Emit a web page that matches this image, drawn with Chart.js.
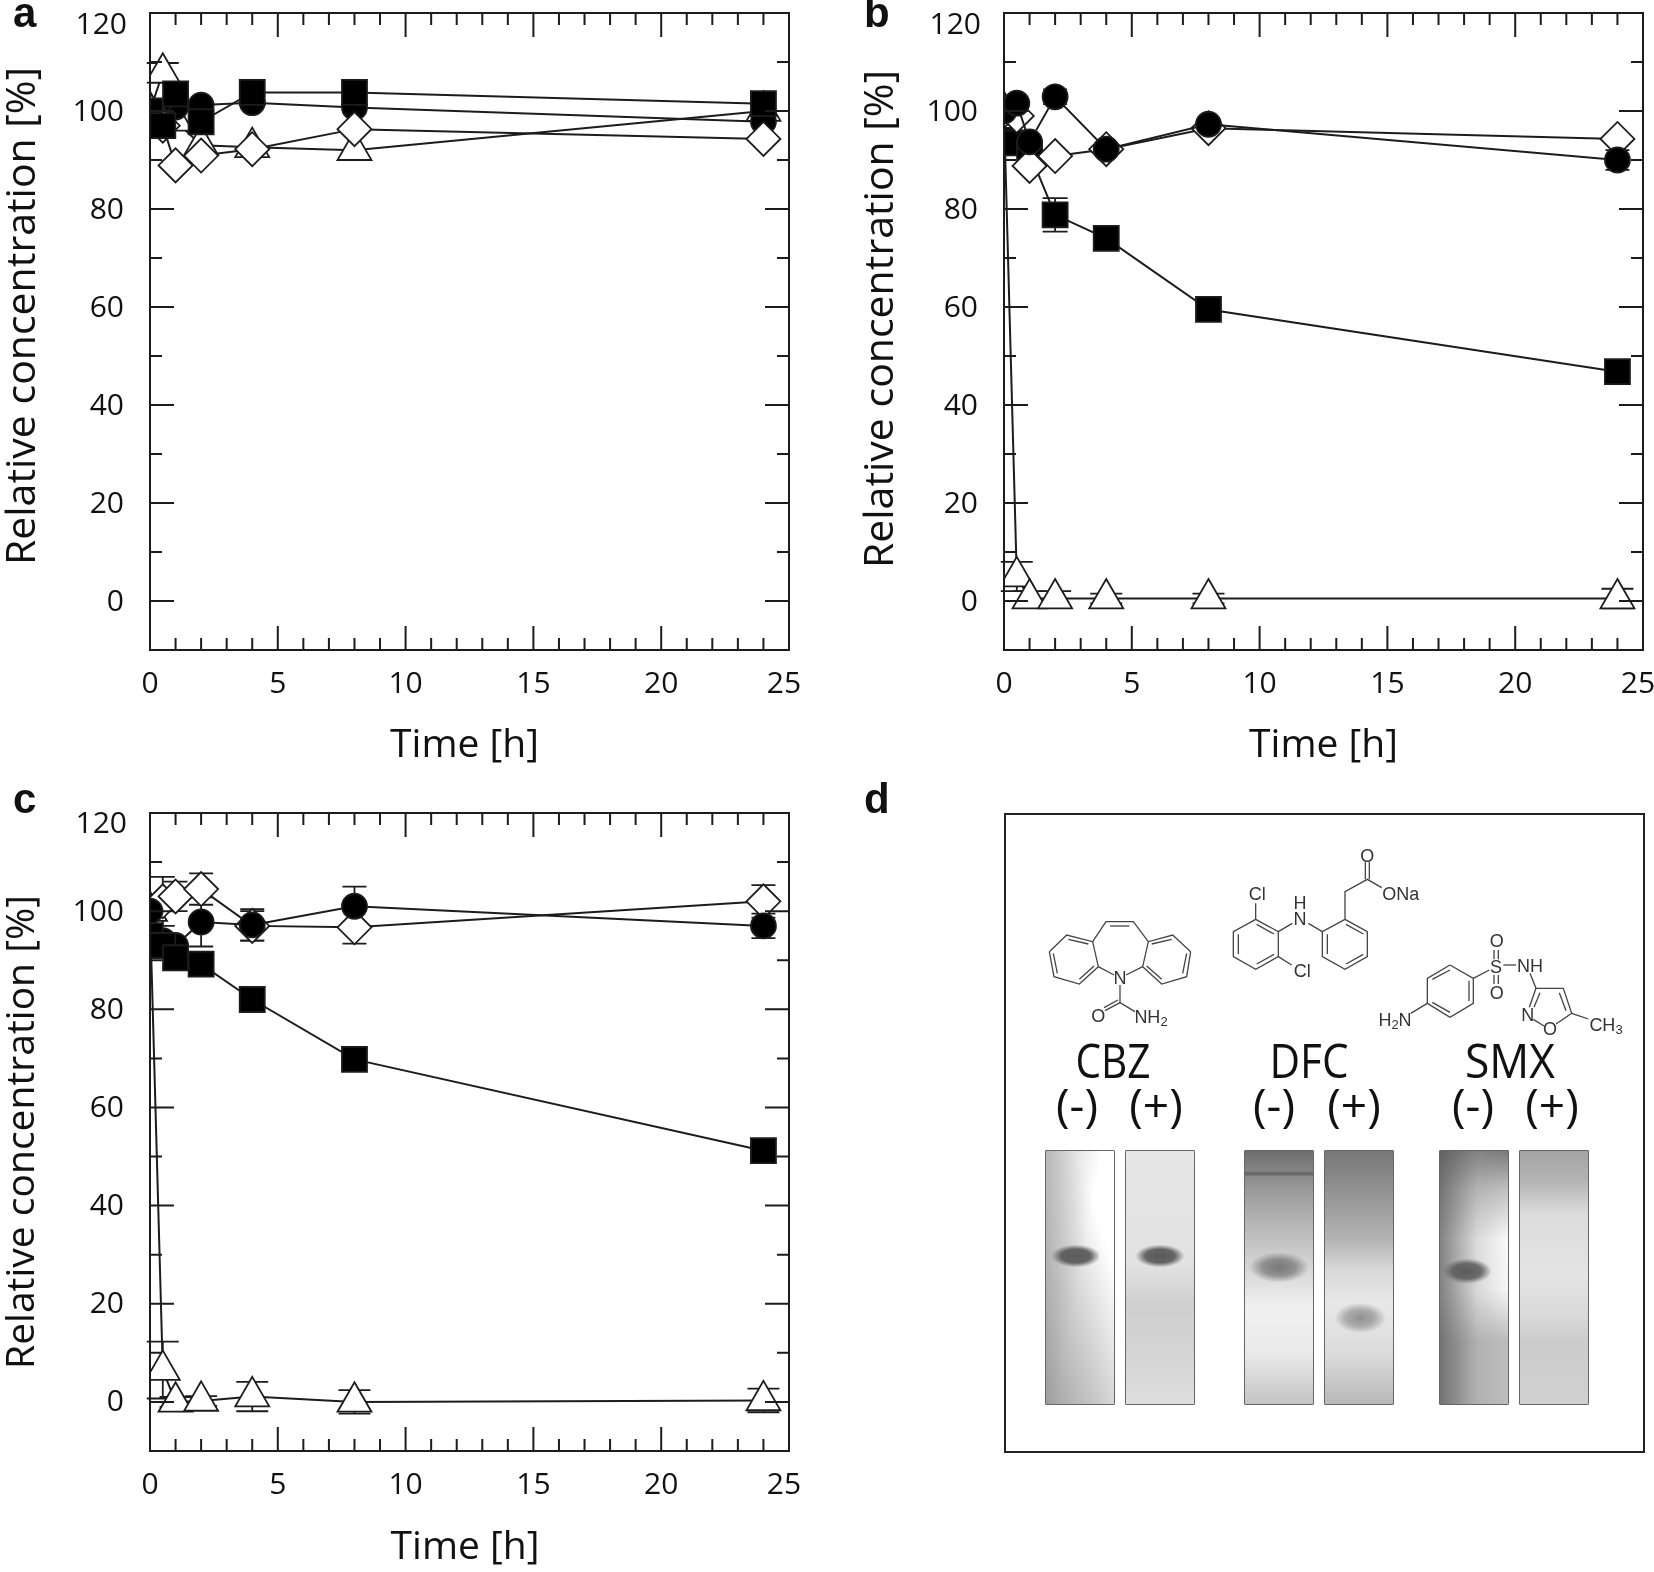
<!DOCTYPE html>
<html><head><meta charset="utf-8">
<script src="https://cdn.jsdelivr.net/npm/chart.js@4"></script>
<style>
html,body{margin:0;padding:0;background:#fff;width:1654px;height:1572px;overflow:hidden}
canvas{position:absolute;display:block}
.let{position:absolute;font:bold 42px "Liberation Sans",Arial,sans-serif;color:#111;line-height:42px}
#boxd{position:absolute;left:1004px;top:813px;width:637px;height:636px;border:2px solid #222}
.gel{position:absolute;top:1150px;height:253px;width:68px;border:1.5px solid #666;border-radius:1px}
#chem{position:absolute;left:0;top:0}
.lab{font-family:"Open Sans",sans-serif;fill:#111}
.at{font-family:"Liberation Sans",Arial,sans-serif;font-size:18px;fill:#333}
</style></head><body>
<canvas id="ca" width="810" height="790" style="left:0;top:0"></canvas>
<canvas id="cb" width="844" height="790" style="left:810px;top:0"></canvas>
<canvas id="cc" width="810" height="812" style="left:0;top:760px"></canvas>
<div class="let" style="left:13px;top:-8px">a</div>
<div class="let" style="left:864px;top:-8px">b</div>
<div class="let" style="left:13px;top:778px">c</div>
<div class="let" style="left:864px;top:778px">d</div>
<div id="boxd"></div>
<div class="gel" style="left:1045px;background:radial-gradient(36% 4.5% at 44% 41.5%,rgba(85,85,85,.95) 0%,rgba(85,85,85,.9) 60%,rgba(85,85,85,0) 100%),linear-gradient(72deg,rgba(120,120,120,.7) 0%,rgba(150,150,150,.45) 40%,rgba(255,255,255,0) 75%),linear-gradient(100deg,#c4c4c4 0%,#fff 50%,#fff 100%)"></div>
<div class="gel" style="left:1125px;background:radial-gradient(36% 4.5% at 50% 41.5%,rgba(85,85,85,.95) 0%,rgba(85,85,85,.9) 60%,rgba(85,85,85,0) 100%),linear-gradient(180deg,#e6e6e6 0%,#e2e2e2 45%,#cfcfcf 60%,#d4d4d4 80%,#dedede 100%)"></div>
<div class="gel" style="left:1244px;background:linear-gradient(180deg,transparent 8%,rgba(70,70,70,.45) 8.5%,rgba(70,70,70,.45) 9.5%,transparent 10%),radial-gradient(44% 6% at 50% 46%,rgba(110,110,110,.9) 0%,rgba(120,120,120,.75) 55%,rgba(120,120,120,0) 100%),linear-gradient(180deg,#6e6e6e 0%,#999 15%,#b8b8b8 30%,#d4d4d4 45%,#f0f0f0 62%,#eaeaea 80%,#c4c4c4 100%)"></div>
<div class="gel" style="left:1324px;background:radial-gradient(38% 6% at 52% 66%,rgba(135,135,135,.9) 0%,rgba(140,140,140,.65) 55%,rgba(140,140,140,0) 100%),linear-gradient(180deg,#777 0%,#9a9a9a 20%,#b4b4b4 35%,#d8d8d8 47%,#e8e8e8 60%,#dcdcdc 80%,#b8b8b8 100%)"></div>
<div class="gel" style="left:1439px;background:radial-gradient(36% 5% at 40% 47.5%,rgba(85,85,85,.95) 0%,rgba(90,90,90,.85) 60%,rgba(90,90,90,0) 100%),linear-gradient(90deg,rgba(90,90,90,.75) 0%,rgba(150,150,150,.3) 55%,rgba(255,255,255,0) 100%),linear-gradient(180deg,#7a7a7a 0%,#c0c0c0 15%,#fafafa 35%,#f6f6f6 55%,#bdbdbd 75%,#bdbdbd 100%)"></div>
<div class="gel" style="left:1519px;background:linear-gradient(180deg,#a4a4a4 0%,#b4b4b4 12%,#dcdcdc 25%,#e4e4e4 50%,#d8d8d8 66%,#cccccc 75%,#d0d0d0 100%)"></div>
<svg id="chem" width="1654" height="1572"></svg>
<script>
const times = [0, 0.5, 1, 2, 4, 8, 24];
const yTickValues = [0, 20, 40, 60, 80, 100, 120];
const xTickValues = [0, 5, 10, 15, 20, 25];
const yMinorValues = [10, 30, 50, 70, 90, 110];
const xMinorValues = [1,2,3,4,6,7,8,9,11,12,13,14,16,17,18,19,21,22,23,24];
const yTitle = 'Relative concentration [%]';
const xTitle = 'Time [h]';

const aSquare   = [100, 97, 103.5, 97.8, 103.8, 103.8, 101.5];
const aCircle   = [100, 98, 100.8, 101.2, 101.7, 100.7, 97.8];
const aTriangle = [100, 107.8, 98, 93, 92.6, 92, 100];
const aDiamond  = [100, 97, 88.9, 90.9, 92.2, 96.3, 94.3];
const aTriangleErr = [0, 2, 0, 0, 0, 0, 0];

const bSquare   = [94, 93.5, 91.4, 78.8, 74, 59.5, 46.8];
const bCircle   = [100, 101.6, 93.7, 102.9, 92.2, 97.3, 90];
const bTriangle = [100, 5, 0.5, 0.5, 0.5, 0.5, 0.5];
const bDiamond  = [100, 99, 88.8, 90.8, 92.2, 96.5, 94.3];
const bSquareErr   = [0, 0, 0, 3.4, 0, 0, 0];
const bCircleErr   = [0, 0, 0, 1.5, 0, 0, 2];
const bTriangleErr = [0, 3, 1.5, 1.5, 1, 1, 2];

const cSquare   = [95, 93, 90.5, 89.2, 82, 69.8, 51.2];
const cCircle   = [100, 94, 93, 97.8, 97.2, 101, 97];
const cTriangle = [100, 6.5, 0, 0.2, 1.1, 0, 0.3];
const cDiamond  = [100, 102, 103, 104.5, 97, 96.7, 102];
const cCircleErr   = [0, 0, 0, 5, 3.2, 4, 2.5];
const cTriangleErr = [0, 5.8, 1, 1, 3, 2.4, 2.4];
const cDiamondErr  = [0, 5, 3, 3.2, 3, 3.3, 3.3];

const INK = '#1c1c1c';
const STY = {
  square:   {pointStyle:'rect',     pointRadius:17.7, bg:'#000', cap:12.5},
  circle:   {pointStyle:'circle',   pointRadius:12.5, bg:'#000', cap:12},
  triangle: {pointStyle:'triangle', pointRadius:19.6, bg:'#fff', cap:16},
  diamond:  {pointStyle:'rectRot',  pointRadius:17,   bg:'#fff', cap:12}
};
function series(kind, vals, order, errs){
  const s = STY[kind];
  return {label:kind, data:vals.map((y,i)=>({x:times[i],y})), order, errs:errs||null, cap:s.cap,
    showLine:true, tension:0, borderColor:INK, borderWidth:2, clip:0,
    pointStyle:s.pointStyle, pointRadius:s.pointRadius, pointHoverRadius:s.pointRadius,
    pointBackgroundColor:s.bg, pointBorderColor:INK, pointBorderWidth:1.8};
}
const furniture = {
  id:'furniture',
  afterLayout(chart){
    const o = chart.options.nudge;
    [['x',chart.scales.x],['y',chart.scales.y]].forEach(([k,s])=>{
      if(s._nudged) return; s._nudged = true;
      const dt = s.drawTitle, cl = s._computeLabelItems;
      s.drawTitle = function(){ const c=this.ctx; c.save();
        if(k==='x') c.translate(o.xTitleDx,0); else c.translate(0,o.yTitleDy);
        dt.apply(this,arguments); c.restore(); };
      s._computeLabelItems = function(a){ const it = cl.call(this,a);
        it.forEach(i=>{
          if(k==='y') i.options.translation[1]+=1;
          if(k==='y'&&i.label==='120'){ i.options.translation[1]+=o.topLabelDy; i.options.translation[0]+=3; }
          if(k==='x'&&i.label==='25') i.options.translation[0]-=5; });
        return it; };
    });
  },
  beforeDatasetsDraw(chart){
    const c = chart.ctx, {x:X, y:Y} = chart.scales;
    c.save(); c.strokeStyle = INK; c.lineWidth = 1.8;
    chart.data.datasets.forEach(d=>{
      if(!d.errs) return;
      d.errs.forEach((e,i)=>{ if(!e) return;
        const px = X.getPixelForValue(d.data[i].x), t = Y.getPixelForValue(d.data[i].y+e), b = Y.getPixelForValue(d.data[i].y-e);
        c.beginPath(); c.moveTo(px,t); c.lineTo(px,b);
        c.moveTo(px-d.cap,t); c.lineTo(px+d.cap,t); c.moveTo(px-d.cap,b); c.lineTo(px+d.cap,b); c.stroke();
      });
    });
    c.restore();
  },
  afterDraw(chart){
    const c = chart.ctx, a = chart.chartArea, {x:X, y:Y} = chart.scales;
    c.save(); c.strokeStyle = INK; c.lineWidth = 2;
    c.strokeRect(a.left,a.top,a.right-a.left,a.bottom-a.top);
    const tick=(vals,len,horizontal)=>vals.forEach(v=>{
      c.beginPath();
      if(horizontal){ const p=Y.getPixelForValue(v); c.moveTo(a.left,p);c.lineTo(a.left+len,p);c.moveTo(a.right,p);c.lineTo(a.right-len,p);}
      else { const p=X.getPixelForValue(v); c.moveTo(p,a.bottom);c.lineTo(p,a.bottom-len);c.moveTo(p,a.top);c.lineTo(p,a.top+len);}
      c.stroke();
    });
    tick(xTickValues,24,false); tick(xMinorValues,12,false);
    tick(yTickValues,24,true);  tick(yMinorValues,12,true);
    c.restore();
  }
};
const zeroPad = s=>{s.paddingLeft=s.paddingRight=s.paddingTop=s.paddingBottom=0;};
function panel(id, box, sets, nudge){
  return new Chart(document.getElementById(id), {
    type:'scatter',
    data:{datasets:sets},
    options:{
      responsive:false, animation:false, devicePixelRatio:1, nudge,
      layout:{autoPadding:false, padding:{left:0,top:box.top,right:box.right,bottom:0}},
      plugins:{legend:{display:false},tooltip:{enabled:false},title:{display:false}},
      scales:{
        x:{type:'linear',min:0,max:25,grid:{display:false},border:{display:false},
          afterBuildTicks:s=>{s.ticks=xTickValues.map(v=>({value:v}));},
          afterFit:s=>{s.height=box.xh;zeroPad(s);},
          ticks:{color:'#111',font:{family:'"Open Sans"',size:30},padding:8,maxRotation:0,autoSkip:false},
          title:{display:true,text:xTitle,color:'#111',font:{family:'"Open Sans"',size:39},padding:{top:0,bottom:box.xtp}}},
        y:{type:'linear',min:-10,max:120,grid:{display:false},border:{display:false},
          afterBuildTicks:s=>{s.ticks=yTickValues.map(v=>({value:v}));},
          afterFit:s=>{s.width=box.yw;zeroPad(s);},
          ticks:{color:'#111',font:{family:'"Open Sans"',size:30},padding:18,autoSkip:false},
          title:{display:true,text:yTitle,color:'#111',font:{family:'"Open Sans"',size:box.yts},padding:{top:box.ytp,bottom:0}}}
      }
    },
    plugins:[furniture]
  });
}
panel('ca',{top:13,right:21,xh:140,yw:150,xtp:21,ytp:-1,yts:41},
  [series('triangle',aTriangle,4,aTriangleErr),series('circle',aCircle,3),series('diamond',aDiamond,2),series('square',aSquare,1)],
  {yTitleDy:-15.5,xTitleDx:-5,topLabelDy:11.5});
panel('cb',{top:13,right:11,xh:140,yw:194,xtp:21,ytp:47,yts:41},
  [series('triangle',bTriangle,4,bTriangleErr),series('square',bSquare,3,bSquareErr),series('diamond',bDiamond,2),series('circle',bCircle,1,bCircleErr)],
  {yTitleDy:-12.5,xTitleDx:0,topLabelDy:11.5});
panel('cc',{top:53,right:21,xh:121,yw:150,xtp:1,ytp:-1,yts:39},
  [series('triangle',cTriangle,4,cTriangleErr),series('diamond',cDiamond,3,cDiamondErr),series('circle',cCircle,2,cCircleErr),series('square',cSquare,1)],
  {yTitleDy:0,xTitleDx:-4.5,topLabelDy:10});

/* panel d: structures and labels */
const NS='http://www.w3.org/2000/svg', svg=document.getElementById('chem');
function seg(ox,oy,list){ list.forEach(p=>{ const l=document.createElementNS(NS,'polyline');
  l.setAttribute('points',p.map((v,i)=>i%2?oy+v/3:ox+v/3).join(' '));
  l.setAttribute('fill','none'); l.setAttribute('stroke','#444'); l.setAttribute('stroke-width','1.3'); svg.appendChild(l); }); }
function txt(parts,x,y,cls,size,len){ const t=document.createElementNS(NS,'text');
  t.setAttribute('x',x); t.setAttribute('y',y); t.setAttribute('class',cls); t.setAttribute('text-anchor','middle');
  if(size) t.setAttribute('font-size',size);
  if(len){ t.setAttribute('textLength',len); t.setAttribute('lengthAdjust','spacingAndGlyphs'); }
  [].concat(parts).forEach(pt=>{ const u=document.createElementNS(NS,'tspan');
    if(/^\d$/.test(pt)){ u.setAttribute('font-size','13'); u.setAttribute('dy','3'); }
    else if(t.childNodes.length) u.setAttribute('dy','-3');
    u.textContent=pt; t.appendChild(u); });
  svg.appendChild(t); }
function at(ox,oy,parts,x,y){ txt(parts,ox+x/3,oy+y/3+6.5,'at'); }
// CBZ + DFC
seg(1040,840,[
 [28,335,80,285,158,305,175,380,118,432,42,410,28,335],[85,298,145,312],[40,340,52,400],[118,418,162,378],
 [452,335,398,285,325,305,308,380,365,432,440,410,452,335],[395,298,335,312],[440,340,428,400],[365,418,320,378],
 [158,305,198,245,280,245,325,305],[210,258,268,258],[175,380,222,405],[308,380,258,405],
 [240,435,240,488,285,515],[240,488,195,512],[234,480,192,503],
 [647,238,715,275,715,350,647,388,580,350,580,275,647,238],[650,253,702,282],[702,343,650,372],[595,283,595,342],
 [647,238,647,190],[715,350,755,375],[715,275,757,250],[805,250,847,275],
 [915,238,982,275,982,350,915,388,847,350,847,275,915,238],[918,253,970,282],[970,343,918,372],[862,283,862,342],
 [915,238,915,155,982,118,1025,143],[976,118,976,65],[988,118,988,65]
]);
at(1040,840,'N',240,412); at(1040,840,'O',175,527); at(1040,840,['NH','2'],333,530);
at(1040,840,'Cl',652,160); at(1040,840,'Cl',787,392); at(1040,840,'N',780,235); at(1040,840,'H',780,187);
at(1040,840,'O',982,45); at(1040,840,'ONa',1082,160);
// SMX
seg(1370,920,[
 [240,135,310,175,310,250,240,292,172,250,172,175,240,135],[187,178,240,150],[297,182,297,243],[187,247,240,277],
 [310,175,358,150],[372,90,372,118],[385,90,385,118],[372,165,372,192],[385,165,385,192],[400,135,438,135],
 [480,160,498,205,580,205,605,280,558,312],[568,218,588,272],[522,318,490,298],[498,205,478,262],[510,218,492,262],
 [605,280,655,297],[122,280,172,250]
]);
at(1370,920,'S',378,140); at(1370,920,'O',380,60); at(1370,920,'O',380,218); at(1370,920,'NH',480,135);
at(1370,920,'N',473,283); at(1370,920,'O',540,325); at(1370,920,['CH','3'],708,312);
at(1370,920,['H','2','N'],75,297);
[['CBZ',1113,1078,48,75],['DFC',1309,1078,48,79],['SMX',1510,1078,48,90],
 ['(-)',1077,1122,46,0],['(+)',1156,1122,46,0],['(-)',1274,1122,46,0],['(+)',1354,1122,46,0],['(-)',1473,1122,46,0],['(+)',1552,1122,46,0]]
 .forEach(l=>txt(l[0],l[1],l[2],'lab',l[3],l[4]));
</script>
</body></html>
